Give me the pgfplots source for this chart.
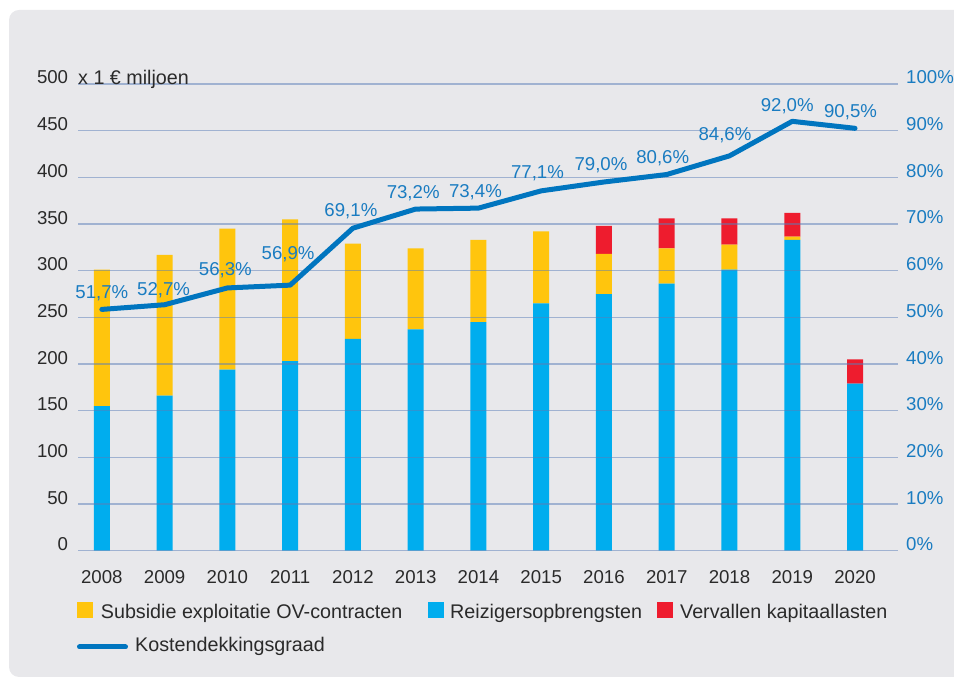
\documentclass[border=0pt]{standalone}
\usepackage{pgfplots}
\pgfplotsset{compat=1.18}
\usepackage{fontspec}
\setmainfont{Liberation Sans}
\definecolor{bgc}{HTML}{E8E8EB}
\definecolor{blueb}{HTML}{00ADEE}
\definecolor{yellowb}{HTML}{FFC50D}
\definecolor{redb}{HTML}{EE1C2E}
\definecolor{linec}{HTML}{0075BF}
\definecolor{labc}{HTML}{1A7CC1}
\definecolor{textc}{HTML}{2A2A2A}
\definecolor{gridc}{HTML}{5A7EB8}
\newcommand\tickfont{\fontsize{18.7}{22}\selectfont}
\newcommand\legfont{\fontsize{19.8}{23}\selectfont}
\begin{document}
\begin{tikzpicture}[x=1bp,y=1bp]
\useasboundingbox (0,0) rectangle (954,677);
\fill[bgc, rounded corners=10bp] (9,0) rectangle (990,667);
\begin{axis}[
  at={(78bp,126.3bp)}, anchor=south west,
  scale only axis, width=820bp, height=466.7bp,
  xmin=-0.38, xmax=12.685, ymin=0, ymax=500,
  ybar stacked, bar width=16bp,
  axis line style={draw=none},
  major tick length=0pt,
  xtick={0,1,2,3,4,5,6,7,8,9,10,11,12},
  xticklabels={2008,2009,2010,2011,2012,2013,2014,2015,2016,2017,2018,2019,2020},
  ytick={0,50,...,500},
  ymajorgrids, grid style={line width=1.6bp, color=gridc, opacity=0.5},
  axis on top,
  tick label style={font=\tickfont, text=textc},
  xticklabel style={anchor=base, inner sep=0pt, yshift=-33.3bp},
  yticklabel style={anchor=base east, inner sep=0pt, xshift=-9.7bp},
  /pgf/number format/assume math mode=true,
  clip=false,
]
\addplot[fill=blueb, draw=none] table {
x y
0 155
1 166
2 194
3 203
4 227
5 237
6 245
7 265
8 275
9 286
10 301
11 333
12 179
};
\addplot[fill=yellowb, draw=none] table {
x y
0 146
1 151
2 151
3 152
4 102
5 87
6 88
7 77
8 43
9 38
10 27
11 3.5
12 0
};
\addplot[fill=redb, draw=none] table {
x y
0 0
1 0
2 0
3 0
4 0
5 0
6 0
7 0
8 30
9 32
10 28
11 25.5
12 26
};
\end{axis}
\begin{axis}[
  at={(78bp,126.3bp)}, anchor=south west,
  scale only axis, width=820bp, height=466.7bp,
  xmin=-0.38, xmax=12.685, ymin=0, ymax=100,
  axis line style={draw=none},
  major tick length=0pt,
  xtick=\empty,
  ytick={0,10,...,100},
  yticklabels={0\%,10\%,20\%,30\%,40\%,50\%,60\%,70\%,80\%,90\%,100\%},
  yticklabel pos=right,
  yticklabel style={anchor=base west, inner sep=0pt, xshift=8bp, text=labc, font=\tickfont},
  clip=false,
]
\addplot[color=linec, line width=5bp, line cap=round, line join=round,
  point meta=\thisrow{p},
  nodes near coords={\pgfmathprintnumber[fixed,fixed zerofill,precision=1,use comma,assume math mode=true]{\pgfplotspointmeta}\%},
  visualization depends on={value \thisrow{dx} \as \dx},
  visualization depends on={value \thisrow{dy} \as \dy},
  nodes near coords style={anchor=base, inner sep=0pt, xshift=\dx bp, yshift=\dy bp, text=labc, font=\tickfont},
] table {
x p dx dy
0 51.7 0 11.1
1 52.7 -1 8.9
2 56.3 -2 12.1
3 56.9 -2 25.9
4 69.1 -2 11.3
5 73.2 -2.5 10.3
6 73.4 -3 10.9
7 77.1 -3.7 12.0
8 79.0 -3 11.7
9 80.6 -4 11.0
10 84.6 -4.5 15.0
11 92.0 -5 9.5
12 90.5 -4.5 10.5
};
\end{axis}
\node[anchor=base west, inner sep=0pt, text=textc, font=\fontsize{19.8}{23}\selectfont] at (78,592.5) {x 1 € miljoen};
% legend
\fill[yellowb] (77,59) rectangle (93,75);
\node[anchor=base west, inner sep=0pt, text=textc, font=\legfont] at (100.7,58.3) {Subsidie exploitatie OV-contracten};
\fill[blueb] (428,59) rectangle (444,75);
\node[anchor=base west, inner sep=0pt, text=textc, font=\legfont] at (450,58.3) {Reizigersopbrengsten};
\fill[redb] (657,59) rectangle (673,75);
\node[anchor=base west, inner sep=0pt, text=textc, font=\legfont] at (680,58.3) {Vervallen kapitaallasten};
\draw[linec, line width=5bp, line cap=round] (79.5,30) -- (125.5,30);
\node[anchor=base west, inner sep=0pt, text=textc, font=\legfont] at (135,25.3) {Kostendekkingsgraad};
\end{tikzpicture}
\end{document}
